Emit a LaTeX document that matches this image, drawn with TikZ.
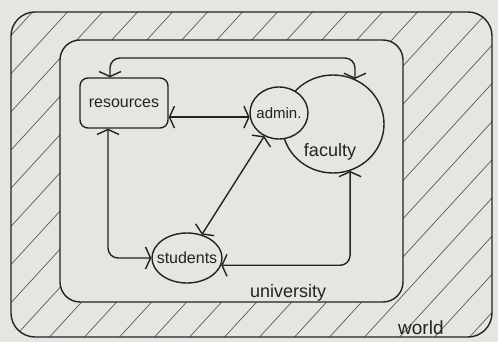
\documentclass[tikz,border=0pt]{standalone}
\usepackage{fontspec}
\setmainfont{Liberation Sans}
\usetikzlibrary{shapes.geometric,arrows.meta}
\definecolor{paper}{RGB}{229,229,225}
\definecolor{ink}{RGB}{35,35,35}
\begin{document}
\begin{tikzpicture}[x=1pt,y=-1pt,
  inkline/.style={draw=ink,line width=1.4pt},
  boxnode/.style={inkline,rounded corners=8pt,fill=paper,minimum width=88pt,minimum height=50pt,inner sep=0pt},
  roundnode/.style={inkline,ellipse,fill=paper,inner sep=0pt},
  lbl/.style={text=ink,inner sep=0pt,font=\fontsize{16}{18}\selectfont},
  barb/.tip={Straight Barb[length=5pt,width=22pt]},
  conn/.style={inkline,rounded corners=10pt,barb-barb},
  hatch/.style={draw=ink!75,line width=0.7pt}]
  % paper
  \fill[paper] (0,0) rectangle (498,342);
  % hatching of the world
  \begin{scope}[even odd rule,rounded corners=22pt]
    \clip (11,12) rectangle (492,337) (60,40) rectangle (403,302);
    \foreach \i in {0,...,26} \draw[hatch] ({-340+35*\i},342) -- ++(330,-360);
  \end{scope}
  \draw[inkline,rounded corners=24pt] (11,12) rectangle (492,337);
  \draw[inkline,rounded corners=20pt] (60,40) rectangle (403,302);
  % nodes
  \node[boxnode,font=\fontsize{16}{18}\selectfont,text=ink] (res) at (124,103) {resources};
  \node[roundnode,minimum width=102pt,minimum height=98pt,
        label={[lbl,font=\fontsize{18}{20}\selectfont,xshift=-3pt,yshift=-28pt]center:faculty}] (fac) at (333,124) {};
  \node[roundnode,minimum width=58pt,minimum height=52pt,
        label={[lbl,font=\fontsize{15}{17}\selectfont]center:admin.}] (adm) at (279,113) {};
  \node[roundnode,minimum width=70pt,minimum height=50pt,
        label={[lbl]center:students}] (stu) at (187,258) {};
  % labels
  \node[lbl,font=\fontsize{18}{20}\selectfont,anchor=base west] (univ) at (250,297) {university};
  \node[lbl,font=\fontsize{19}{21}\selectfont,anchor=base west] (world) at (398,334) {world};
  % connectors
  \draw[conn] ([xshift=-14pt]res.north) |- (200,58) -| (fac.64);
  \draw[conn] (res.east |- adm.188) -- (adm.188);
  \draw[conn] (adm) -- (stu);
  \draw[conn] ([xshift=-16pt]res.south) |- (stu.west);
  \draw[conn] (stu.-12) -| (fac.-70);
\end{tikzpicture}
\end{document}
